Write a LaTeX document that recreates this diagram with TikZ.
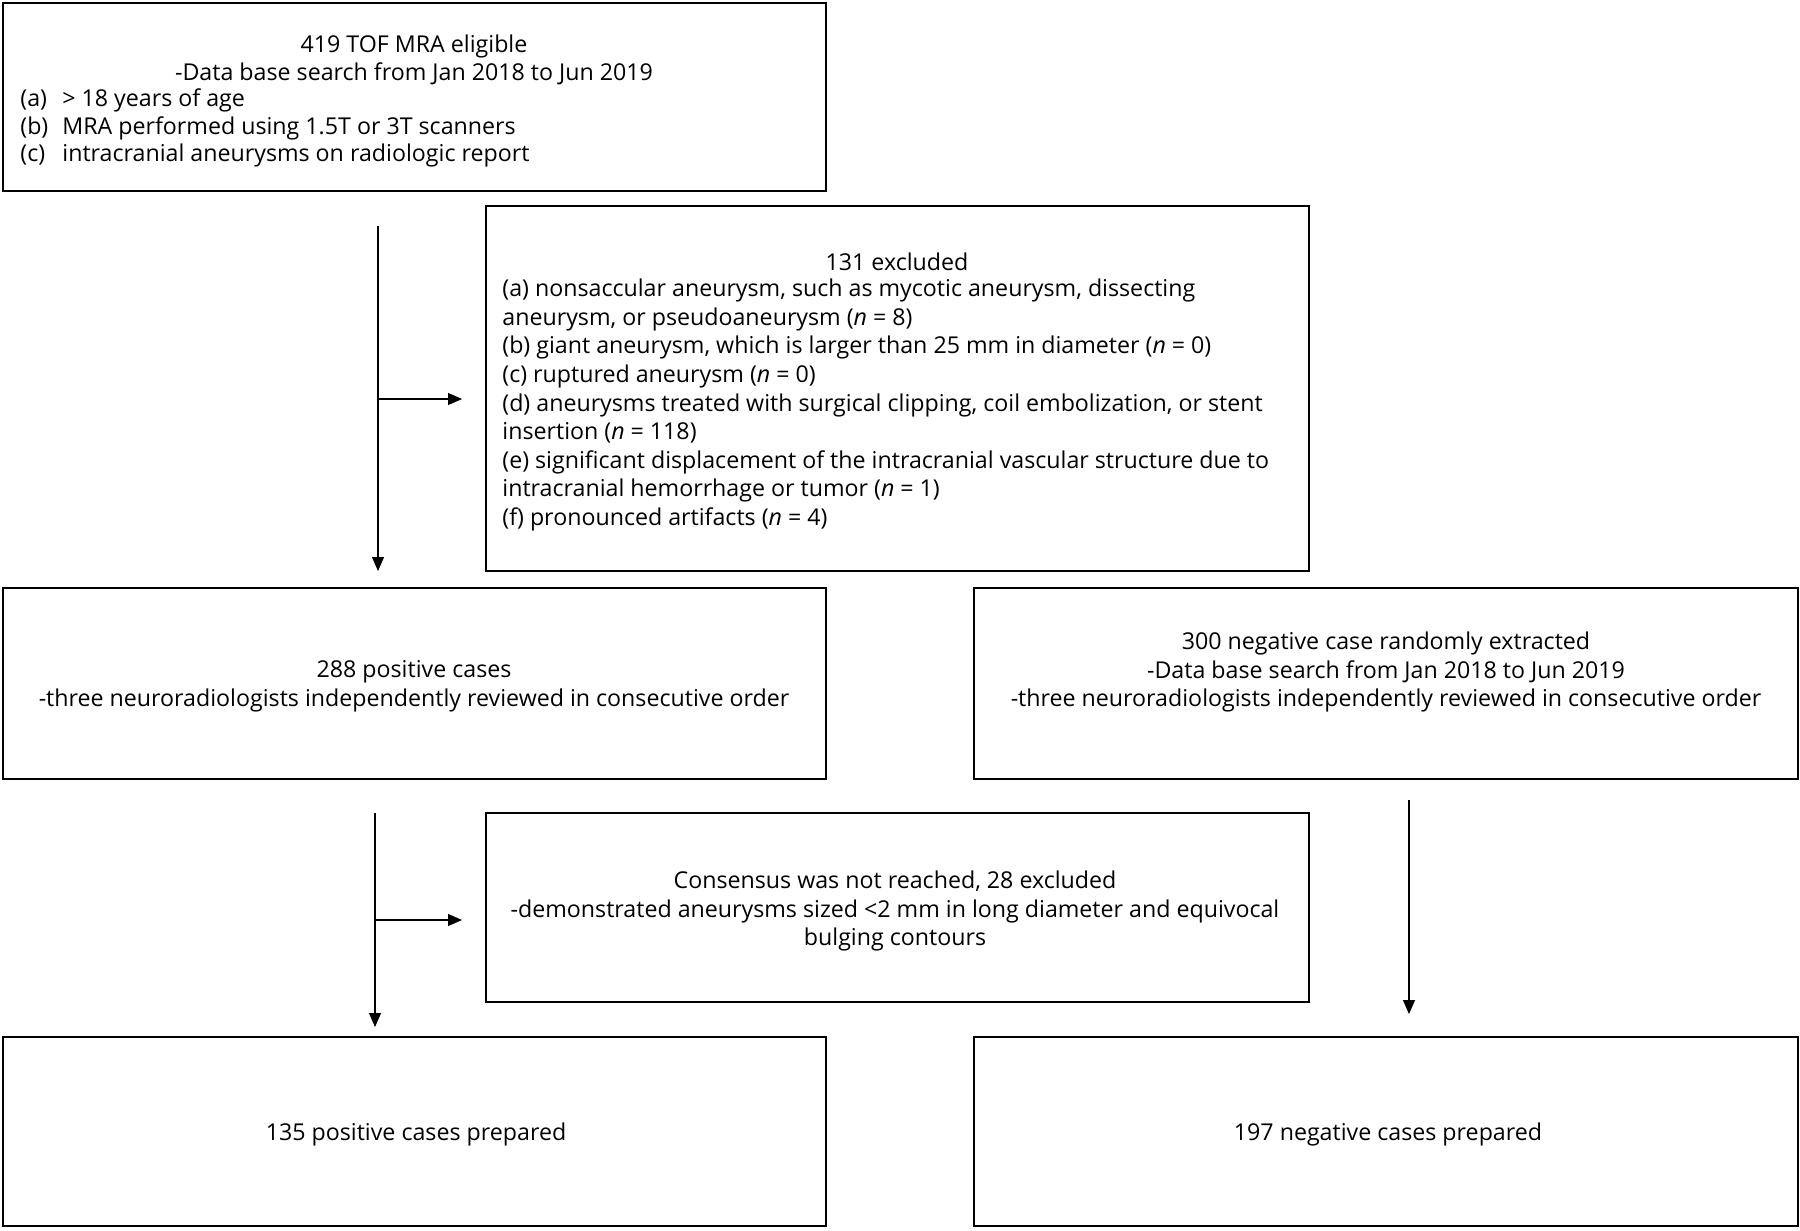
\documentclass[tikz,border=0pt]{standalone}
\usepackage{fontspec}
\setmainfont{Open Sans}
\usetikzlibrary{arrows.meta}
\begin{document}
\begin{tikzpicture}[x=0.5pt,y=-0.5pt,
  box/.style={draw=black, line width=1pt, rectangle, inner sep=0pt},
  txt/.style={font=\fontsize{11.6}{14.3}\selectfont, inner sep=0pt, text=black},
  txtb/.style={font=\fontsize{11.6}{13.9}\selectfont, inner sep=0pt, text=black},
  arr/.style={draw=black, line width=0.55pt, -{Triangle[length=7pt,width=6pt]}}]
\useasboundingbox (0,0) rectangle (1800,1231);
\fill[white] (0,0) rectangle (1800,1231);
% boxes
\node[box, minimum width=411.5pt, minimum height=94pt] (b1) at (414,96.5) {};
\node[box, minimum width=411.5pt, minimum height=182.5pt] (b2) at (897.2,388) {};
\node[box, minimum width=411.5pt, minimum height=95.25pt] (b3) at (414,683.3) {};
\node[box, minimum width=412pt, minimum height=95.25pt] (b4) at (1385.6,683.3) {};
\node[box, minimum width=411.5pt, minimum height=94.7pt] (b5) at (897.2,907.5) {};
\node[box, minimum width=411.5pt, minimum height=94.7pt] (b6) at (414,1131.4) {};
\node[box, minimum width=412pt, minimum height=94.7pt] (b7) at (1385.6,1131.4) {};
% texts
\node[txtb, align=center] (t1a) at (414,60) {419 TOF MRA eligible\\-Data base search from Jan 2018 to Jun 2019};
\node[txtb, align=left, anchor=west] (t1b) at (20,128) {\makebox[21pt][l]{(a)}> 18 years of age\\\makebox[21pt][l]{(b)}MRA performed using 1.5T or 3T scanners\\\makebox[21pt][l]{(c)}intracranial aneurysms on radiologic report};
\node[txt] (t2a) at (897,262) {131 excluded};
\node[txt, align=left, anchor=west] (t2b) at (502,405) {(a) nonsaccular aneurysm, such as mycotic aneurysm, dissecting\\aneurysm, or pseudoaneurysm (\textit{n} = 8)\\(b) giant aneurysm, which is larger than 25 mm in diameter (\textit{n} = 0)\\(c) ruptured aneurysm (\textit{n} = 0)\\(d) aneurysms treated with surgical clipping, coil embolization, or stent\\insertion (\textit{n} = 118)\\(e) significant displacement of the intracranial vascular structure due to\\intracranial hemorrhage or tumor (\textit{n} = 1)\\(f) pronounced artifacts (\textit{n} = 4)};
\node[txt, align=center] (t3) at (414,686) {288 positive cases\\-three neuroradiologists independently reviewed in consecutive order};
\node[txt, align=center] (t4) at (1386,672) {300 negative case randomly extracted\\-Data base search from Jan 2018 to Jun 2019\\-three neuroradiologists independently reviewed in consecutive order};
\node[txt, align=center] (t5) at (895,911) {Consensus was not reached, 28 excluded\\-demonstrated aneurysms sized <2 mm in long diameter and equivocal\\bulging contours};
\node[txt] (t6) at (416,1134) {135 positive cases prepared};
\node[txt] (t7) at (1388,1134) {197 negative cases prepared};
% connectors
\coordinate (a1s) at (378,226);
\coordinate (a1e) at (378,571);
\coordinate (a1b) at (378,399);
\coordinate (a1t) at (462,399);
\coordinate (a2s) at (375,813);
\coordinate (a2e) at (375,1027);
\coordinate (a2b) at (375,920);
\coordinate (a2t) at (462,920);
\coordinate (a3s) at (1409,800);
\coordinate (a3e) at (1409,1014);
\draw[arr] (a1s) -- (a1e);
\draw[arr] (a1b) -- (a1t);
\draw[arr] (a2s) -- (a2e);
\draw[arr] (a2b) -- (a2t);
\draw[arr] (a3s) -- (a3e);
\end{tikzpicture}
\end{document}
